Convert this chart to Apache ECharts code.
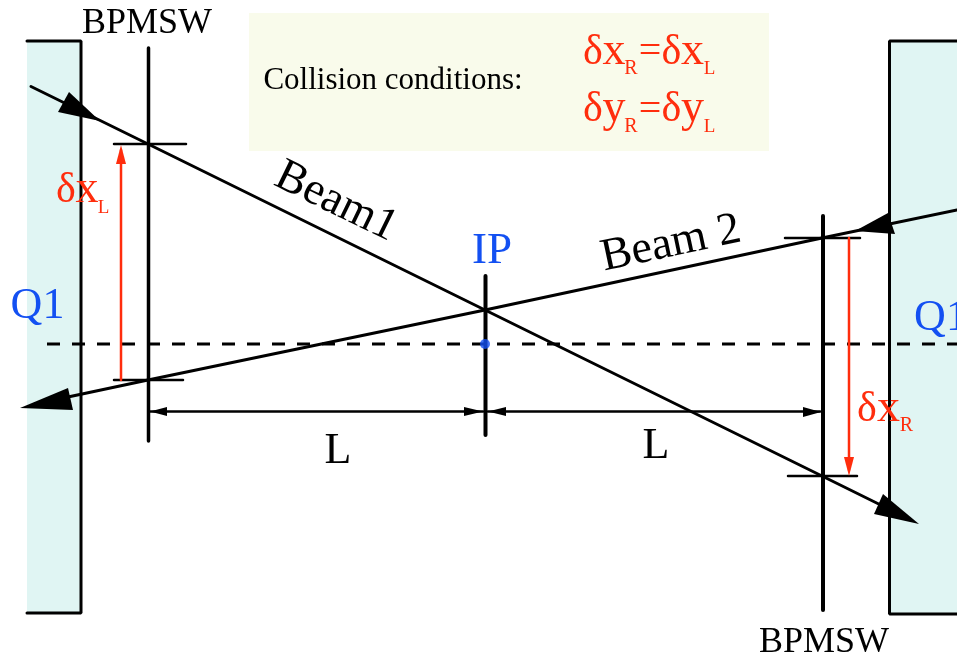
<!DOCTYPE html>
<html>
<head>
<meta charset="utf-8">
<title>Collision conditions</title>
<style>
  html, body { margin: 0; padding: 0; background: #fff; }
  #main { width: 957px; height: 655px; }
</style>
<script src="https://cdn.jsdelivr.net/npm/echarts@6/dist/echarts.min.js"></script>
</head>
<body>
<div id="main"></div>
<script>
// diagram coordinates, x 0-957 and y 0-655 from the top
var q1Left = [[27, 41], [81, 41], [81, 613], [27, 613]];
var q1Right = [[889.5, 41], [957, 41], [957, 614], [889.5, 614]];
var conditionBox = [[249, 13], [769, 13], [769, 151], [249, 151]];

var q1Outline = [
    [[27, 41], [81, 41], [81, 613], [27, 613]],
    [[957, 41], [889.5, 41], [889.5, 614], [957, 614]]
];
var beams = [
    [[31, 86.5], [148, 144], [485, 310], [822, 476], [905, 517]],
    [[957, 210], [822, 238], [485, 310], [148, 380], [35, 404]]
];
var bpmLeft = [[148.5, 48], [148.5, 441]];
var bpmRight = [[823, 216], [823, 610]];
var ipLine = [[485.5, 276], [485.5, 435]];
var ticks = [
    [[114, 144], [186, 144]],
    [[114, 380], [183, 380]],
    [[785, 238], [860, 238]],
    [[788, 476], [857, 476]]
];
var spans = [
    [[150, 411.5], [483, 411.5]],
    [[488, 411.5], [820, 411.5]]
];
var redSpans = [
    [[121, 380], [121, 150]],
    [[849, 238], [849, 470]]
];
var axisLine = [[47, 344], [957, 344]];
var ipPoint = [[485, 344]];

var blackHeads = [
    [[100, 121], [69, 92], [58, 112]],
    [[20, 408], [68, 388], [73, 410]],
    [[855, 231], [888, 213], [895, 234]],
    [[919, 524], [883, 494], [874, 514]],
    [[150, 411.5], [167, 407], [167, 416]],
    [[483, 411.5], [464, 407], [464, 416]],
    [[488, 411.5], [506, 407], [506, 416]],
    [[821, 412], [803, 407], [803, 417]]
];
var redHeads = [
    [[121, 145], [116, 164], [126, 164]],
    [[849, 476], [844, 457], [854, 457]]
];

// [x, y, text, font size, rotation in degrees]
var blackLabels = [
    [147, 24, 'BPMSW', 36, 0],
    [824, 643, 'BPMSW', 36, 0],
    [393, 81, 'Collision conditions:', 31, 0],
    [336, 202, 'Beam1', 46, -26],
    [671, 244, 'Beam 2', 46, 12],
    [338, 451, 'L', 44, 0],
    [656, 446, 'L', 44, 0]
];
var blueLabels = [
    [37.5, 306, 'Q1', 44, 0],
    [941, 318, 'Q1', 44, 0],
    [492, 251, 'IP', 45, 0]
];
var redLabels = [
    [593, 53, 'δ', 42, 0], [614, 52, 'x', 46, 0], [631, 69, 'R', 20, 0], [650, 52, '=', 40, 0],
    [671.5, 53, 'δ', 42, 0], [692.5, 52, 'x', 46, 0], [709.5, 69, 'L', 19, 0],
    [593, 110, 'δ', 42, 0], [614, 109, 'y', 46, 0], [631, 127, 'R', 20, 0], [650, 110, '=', 40, 0],
    [671.5, 110, 'δ', 42, 0], [692.5, 109, 'y', 46, 0], [709.5, 127, 'L', 19, 0],
    [66, 191, 'δ', 42, 0], [87, 190, 'x', 46, 0], [103.5, 208, 'L', 19, 0],
    [867, 410, 'δ', 42, 0], [888.5, 409, 'x', 46, 0], [906.5, 426, 'R', 20, 0]
];

var BLACK = '#000000';
var RED = '#ff2d0d';
var BLUE = '#1350f2';
var SERIF = '"Liberation Serif", "Times New Roman", serif';

function polygonSeries(polys, color, z) {
    return {
        type: 'custom',
        coordinateSystem: 'cartesian2d',
        silent: true,
        clip: true,
        z: z,
        data: polys.map(function (p, i) { return [i]; }),
        renderItem: function (params, api) {
            var pts = polys[api.value(0)].map(function (p) { return api.coord(p); });
            return { type: 'polygon', shape: { points: pts }, style: { fill: color } };
        }
    };
}

function lineSeries(points, color, width, z, dashed) {
    return {
        type: 'line',
        data: points,
        showSymbol: false,
        silent: true,
        z: z,
        lineStyle: {
            color: color,
            width: width,
            cap: dashed ? 'butt' : 'round',
            type: dashed ? [13, 12] : 'solid'
        }
    };
}

function labelSeries(labels, color) {
    return {
        type: 'custom',
        coordinateSystem: 'cartesian2d',
        silent: true,
        clip: false,
        z: 8,
        data: labels.map(function (l, i) { return [i]; }),
        renderItem: function (params, api) {
            var l = labels[api.value(0)];
            var c = api.coord([l[0], l[1]]);
            return {
                type: 'text',
                x: c[0],
                y: c[1],
                rotation: l[4] * Math.PI / 180,
                style: {
                    text: l[2],
                    fill: color,
                    font: l[3] + 'px ' + SERIF,
                    textAlign: 'center',
                    textVerticalAlign: 'middle'
                }
            };
        }
    };
}

var series = [
    polygonSeries([q1Left, q1Right], '#e0f5f3', 1),
    polygonSeries([conditionBox], '#f9fbeb', 1)
];
q1Outline.forEach(function (p) { series.push(lineSeries(p, BLACK, 3, 2)); });
series.push(lineSeries(axisLine, BLACK, 3, 3, true));
beams.forEach(function (p) { series.push(lineSeries(p, BLACK, 3, 3)); });
series.push(lineSeries(bpmLeft, BLACK, 3.5, 4));
series.push(lineSeries(bpmRight, BLACK, 4, 4));
series.push(lineSeries(ipLine, BLACK, 4, 4));
ticks.forEach(function (p) { series.push(lineSeries(p, BLACK, 2.5, 4)); });
spans.forEach(function (p) { series.push(lineSeries(p, BLACK, 2.5, 4)); });
redSpans.forEach(function (p) { series.push(lineSeries(p, RED, 2.5, 5)); });
series.push(polygonSeries(blackHeads, BLACK, 6));
series.push(polygonSeries(redHeads, RED, 6));
series.push({
    type: 'scatter',
    data: ipPoint,
    symbolSize: 10,
    silent: true,
    z: 7,
    itemStyle: { color: BLUE }
});
series.push(labelSeries(blackLabels, BLACK));
series.push(labelSeries(blueLabels, BLUE));
series.push(labelSeries(redLabels, RED));

var myChart = echarts.init(document.getElementById('main'));
myChart.setOption({
    animation: false,
    backgroundColor: '#ffffff',
    grid: { left: 0, right: 0, top: 0, bottom: 0 },
    xAxis: { type: 'value', min: 0, max: 957, show: false },
    yAxis: { type: 'value', min: 0, max: 655, inverse: true, show: false },
    series: series
});
</script>
</body>
</html>
